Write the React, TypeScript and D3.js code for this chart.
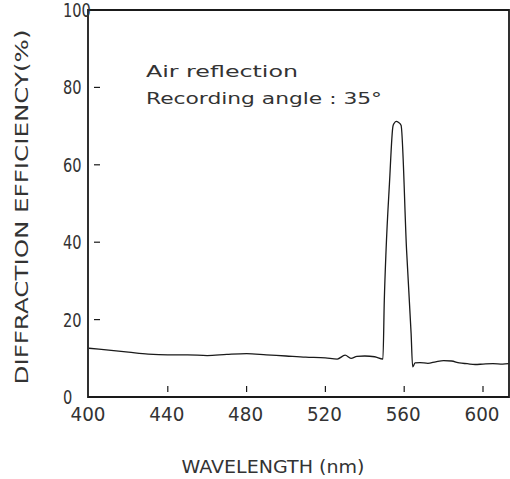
import * as d3 from "d3";
import { useEffect, useRef } from "react";

// ---- data ----
const wavelength = [
  400, 410, 420, 430, 440, 450, 460, 470, 480, 490, 500, 510, 520, 526, 530, 533, 536, 540, 545, 549.2,
  549.9, 550.8, 552.5, 554.3, 555, 556, 557, 558.4, 561.2, 563.5, 564.3, 565.5, 568, 572, 576, 580,
  584, 588, 592, 596, 600, 605, 610, 613,
];
const efficiency = [
  12.6, 12.1, 11.6, 11.1, 10.9, 10.9, 10.7, 11.0, 11.2, 10.9, 10.6, 10.3, 10.1, 9.8, 10.8, 10.0, 10.5, 10.6, 10.4, 9.8,
  25, 38, 55, 70, 70.8, 71.2, 71.0, 70.2, 38, 16.5, 7.8, 8.8, 8.9, 8.7, 9.1, 9.4,
  9.3, 8.8, 8.6, 8.4, 8.5, 8.6, 8.5, 8.6,
];
const xTicks = [400, 440, 480, 520, 560, 600];
const yTicks = [0, 20, 40, 60, 80, 100];

export default function App() {
  const ref = useRef<SVGSVGElement>(null);

  useEffect(() => {
    const width = 510;
    const height = 479;
    const left = 88, right = 509, top = 10, bottom = 397;

    const svg = d3.select(ref.current);
    svg.selectAll("*").remove();

    const x = d3.scaleLinear().domain([400, 600]).range([89, 483]);
    const y = d3.scaleLinear().domain([0, 100]).range([bottom, top]);

    const ink = "#1a1a1a";
    const font = "DejaVu Sans, sans-serif";

    // frame
    svg.append("path")
      .attr("d", `M${left},${top}H${right}V${bottom}H${left}Z`)
      .attr("fill", "none")
      .attr("stroke", ink)
      .attr("stroke-width", 1.8);

    // inner ticks (small gap from the axis)
    svg.append("g")
      .selectAll("line")
      .data(yTicks.filter((d) => d > 0 && d < 100))
      .join("line")
      .attr("x1", left + 6)
      .attr("x2", left + 12)
      .attr("y1", (d) => y(d))
      .attr("y2", (d) => y(d))
      .attr("stroke", ink)
      .attr("stroke-width", 1.2);

    svg.append("g")
      .selectAll("line")
      .data(xTicks.filter((d) => d > 400))
      .join("line")
      .attr("x1", (d) => x(d))
      .attr("x2", (d) => x(d))
      .attr("y1", bottom - 5)
      .attr("y2", bottom - 11)
      .attr("stroke", ink)
      .attr("stroke-width", 1.2);

    // tick labels
    svg.append("g")
      .selectAll("text")
      .data(xTicks)
      .join("text")
      .attr("x", (d) => x(d) - 1)
      .attr("y", 421)
      .attr("text-anchor", "middle")
      .attr("font-family", font)
      .attr("font-size", 19)
      .attr("fill", "#333")
      .attr("textLength", 35)
      .attr("lengthAdjust", "spacingAndGlyphs")
      .text((d) => d);

    svg.append("g")
      .selectAll("text")
      .data(yTicks)
      .join("text")
      .attr("x", 63)
      .attr("y", (d) => y(d) + 7)
      .attr("font-family", font)
      .attr("font-size", 19)
      .attr("fill", "#333")
      .attr("textLength", (d) => String(d).length * 9.3)
      .attr("lengthAdjust", "spacingAndGlyphs")
      .text((d) => d);

    // line
    const line = d3.line<number>()
      .x((_, i) => x(wavelength[i]))
      .y((d) => y(d))
      .curve(d3.curveMonotoneX);

    svg.append("path")
      .datum(efficiency)
      .attr("d", line)
      .attr("fill", "none")
      .attr("stroke", ink)
      .attr("stroke-width", 1.3);

    // annotation
    svg.append("text")
      .attr("x", 146)
      .attr("y", 77)
      .attr("font-family", font)
      .attr("font-size", 16)
      .attr("fill", "#333")
      .attr("textLength", 152)
      .attr("lengthAdjust", "spacingAndGlyphs")
      .text("Air reflection");

    svg.append("text")
      .attr("x", 146)
      .attr("y", 104)
      .attr("font-family", font)
      .attr("font-size", 16)
      .attr("fill", "#333")
      .attr("textLength", 236)
      .attr("lengthAdjust", "spacingAndGlyphs")
      .text("Recording angle : 35°");

    // axis titles
    svg.append("text")
      .attr("x", 273)
      .attr("y", 473)
      .attr("text-anchor", "middle")
      .attr("font-family", font)
      .attr("font-size", 17)
      .attr("fill", "#333")
      .attr("textLength", 183)
      .attr("lengthAdjust", "spacingAndGlyphs")
      .text("WAVELENGTH (nm)");

    svg.append("text")
      .attr("transform", `translate(28,207) rotate(-90)`)
      .attr("text-anchor", "middle")
      .attr("font-family", font)
      .attr("font-size", 17)
      .attr("fill", "#333")
      .attr("textLength", 355)
      .attr("lengthAdjust", "spacingAndGlyphs")
      .text("DIFFRACTION EFFICIENCY(%)");

    svg.attr("viewBox", `0 0 ${width} ${height}`);
  }, []);

  return (
    <svg
      ref={ref}
      width={510}
      height={479}
      style={{ position: "absolute", left: 0, top: 0, background: "#fff" }}
    />
  );
}
